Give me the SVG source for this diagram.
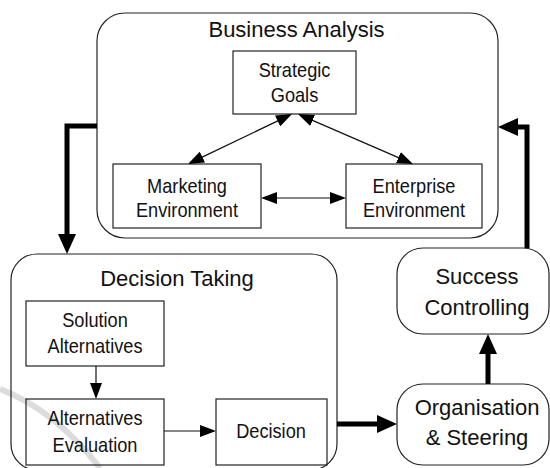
<svg xmlns="http://www.w3.org/2000/svg" width="550" height="468" viewBox="0 0 550 468">
<style>
.box{fill:none;stroke:#222;stroke-width:1.2}
.title{font-family:"Liberation Sans",Arial,sans-serif;font-size:22px;fill:#111;text-anchor:middle}
.lbl{font-family:"Liberation Sans",Arial,sans-serif;font-size:18.2px;fill:#111;text-anchor:middle}
.big{font-family:"Liberation Sans",Arial,sans-serif;font-size:22px;fill:#111;text-anchor:middle}
.thin{fill:none;stroke:#111;stroke-width:1.2}
.thick{fill:none;stroke:#000;stroke-width:5}
</style>
<defs>
<marker id="ah" markerUnits="userSpaceOnUse" markerWidth="16" markerHeight="12" refX="2" refY="6" orient="auto-start-reverse"><path d="M0,0 L16,6 L0,12 z" fill="#000"/></marker>
<marker id="ahT" markerUnits="userSpaceOnUse" markerWidth="20" markerHeight="18" refX="2" refY="9" orient="auto"><path d="M0,0 L20,9 L0,18 z" fill="#000"/></marker>
</defs>
<rect width="550" height="468" fill="#fff"/>
<path d="M0,389 Q55,410 100,468" fill="none" stroke="#dcdcdc" stroke-width="6"/>
<g id="business-analysis"><rect class="box" x="97" y="13" width="401" height="225" rx="28"/><text class="title" x="296.5" y="37">Business Analysis</text></g>
<g id="strategic-goals"><rect class="box" x="233" y="51" width="123" height="63"/><text class="lbl" transform="matrix(1,0,0,1.16,294.5,77)">Strategic</text><text class="lbl" transform="matrix(1,0,0,1.16,294.5,102)">Goals</text></g>
<g id="marketing-environment"><rect class="box" x="113" y="164" width="148" height="64"/><text class="lbl" transform="matrix(1,0,0,1.16,187,193)">Marketing</text><text class="lbl" transform="matrix(1,0,0,1.16,187,217)">Environment</text></g>
<g id="enterprise-environment"><rect class="box" x="346" y="164" width="136" height="64"/><text class="lbl" transform="matrix(1,0,0,1.16,414,193)">Enterprise</text><text class="lbl" transform="matrix(1,0,0,1.16,414,217)">Environment</text></g>
<g id="decision-taking"><rect class="box" x="11" y="254" width="326" height="216" rx="26"/><text class="title" x="177" y="286">Decision Taking</text></g>
<g id="solution-alternatives"><rect class="box" x="26" y="301" width="138" height="65"/><text class="lbl" transform="matrix(1,0,0,1.16,95,327)">Solution</text><text class="lbl" transform="matrix(1,0,0,1.16,95,353)">Alternatives</text></g>
<g id="alternatives-evaluation"><rect class="box" x="26" y="399" width="138" height="66"/><text class="lbl" transform="matrix(1,0,0,1.16,95,425)">Alternatives</text><text class="lbl" transform="matrix(1,0,0,1.16,95,452)">Evaluation</text></g>
<g id="decision"><rect class="box" x="216" y="399" width="111" height="66"/><text class="lbl" transform="matrix(1,0,0,1.16,271,438)">Decision</text></g>
<g id="success-controlling"><rect class="box" x="397" y="248" width="152" height="86" rx="26"/><text class="big" x="477" y="284">Success</text><text class="big" x="477" y="315">Controlling</text></g>
<g id="organisation-steering"><rect class="box" x="397" y="384" width="152" height="81" rx="26"/><text class="big" x="477" y="415">Organisation</text><text class="big" x="477" y="445">&amp; Steering</text></g>
<g id="connectors">
<line class="thin" x1="279.4" y1="120.1" x2="200.6" y2="157.9" marker-start="url(#ah)" marker-end="url(#ah)"/>
<line class="thin" x1="310.8" y1="119.6" x2="400.2" y2="158.4" marker-start="url(#ah)" marker-end="url(#ah)"/>
<line class="thin" x1="275" y1="198" x2="332" y2="198" marker-start="url(#ah)" marker-end="url(#ah)"/>
<line class="thin" x1="96" y1="366" x2="96" y2="385" marker-end="url(#ah)"/>
<line class="thin" x1="164" y1="431" x2="202" y2="431" marker-end="url(#ah)"/>
<path class="thick" d="M97,126 H67 V236" marker-end="url(#ahT)"/>
<path class="thick" d="M337,424 H379" marker-end="url(#ahT)"/>
<path class="thick" d="M488,384 V352" marker-end="url(#ahT)"/>
<path class="thick" d="M527,248 V127 H516" marker-end="url(#ahT)"/>
</g>
</svg>
